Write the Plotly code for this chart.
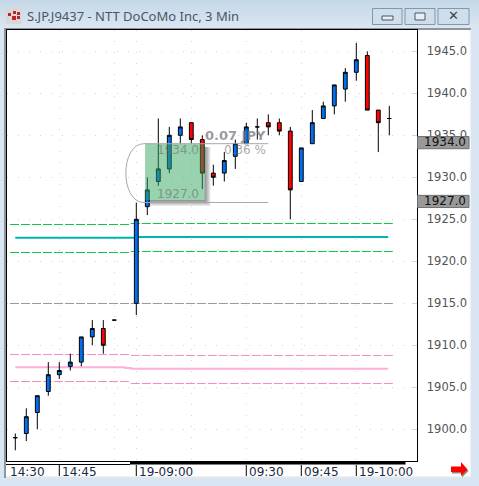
import plotly.graph_objects as go

W, H = 479, 486

# bar slots, 3 min each; slot 10 is the empty break between the two sessions
bar_pos = [0, 1, 2, 3, 4, 5, 6, 7, 8, 9, 11, 12, 13, 14, 15, 16, 17, 18, 19, 20, 21, 22, 23, 24, 25, 26, 27, 28, 29, 30, 31, 32, 33, 34]
opens = [1899, 1899.5, 1902, 1904.5, 1906.5, 1907.5, 1908, 1911, 1912, 1913, 1915, 1926.5, 1929.5, 1931, 1935, 1936.5, 1934.5, 1930.5, 1930.5, 1932.5, 1934, 1936, 1936.5, 1936.5, 1935.5, 1929.5, 1934, 1937, 1938.5, 1940.5, 1942.5, 1944.5, 1938, 1937]
highs = [1899.5, 1902.5, 1904, 1908, 1908, 1909, 1911, 1913, 1913, 1913, 1927, 1930, 1937, 1936, 1937, 1936.5, 1935, 1931.5, 1933, 1934.5, 1936.5, 1937, 1937.5, 1937, 1936, 1933.5, 1938, 1939, 1941, 1943, 1946, 1945, 1938, 1938.5]
lows = [1897.5, 1898.6, 1900, 1904, 1906, 1907, 1907.5, 1910, 1909, 1913, 1913.6, 1925.5, 1929, 1930.5, 1934, 1934, 1928.6, 1929, 1929.5, 1931, 1934, 1934.5, 1935, 1935, 1925, 1929.5, 1934, 1937, 1937.5, 1939, 1941.5, 1938, 1933, 1935]
closes = [1899, 1901.5, 1904, 1906.5, 1907, 1908, 1911, 1912, 1910, 1913, 1925, 1928.5, 1931, 1935, 1936, 1934.5, 1930.5, 1930, 1932, 1934, 1936, 1936, 1936, 1935.5, 1928.5, 1933.5, 1936.5, 1938.5, 1941, 1942.5, 1944, 1938, 1936.5, 1937]

y_ticks = [1900, 1905, 1910, 1915, 1920, 1925, 1930, 1935, 1940, 1945]
time_pos = [-0.78, 4, 11, 21, 26, 31]
time_labels = ["14:30", "14:45", "19-09:00", "09:30", "09:45", "19-10:00"]
grid_pos = [4, 9, 11, 16, 21, 26, 31]

# dashed band lines, previous session then current session
band_left = [-0.48, 10.43]
band_right = [10.5, 34.4]
green_upper = [1924.38, 1924.5]
green_lower = [1921.05, 1921.17]
gray_mid = [1914.98, 1914.98]
pink_upper = [1908.9, 1908.79]
pink_lower = [1905.69, 1905.45]

cyan_x = [0, 11, 11, 33.9]
cyan_y = [1922.8, 1922.8, 1922.9, 1922.9]
pink_x = [0, 10, 10, 10.5, 10.5, 33.9]
pink_y = [1907.4, 1907.4, 1907.3, 1907.3, 1907.2, 1907.2]

price_hi = 1934
price_lo = 1927
box_x = [11.8, 17.2]
box_y = [1927.3, 1934]
rail_end = 23

plot_l, plot_r, plot_t, plot_b = 6.5, 416.5, 30, 461


def py(v):
    return 1 - v / H


def px(v):
    return v / W


def rect(x0, y0, x1, y1, fill, line=None, layer="below", lw=1):
    return dict(type="rect", xref="paper", yref="paper", x0=px(x0), x1=px(x1), y0=py(y0), y1=py(y1),
                fillcolor=fill, line=dict(color=line or "rgba(0,0,0,0)", width=lw if line else 0), layer=layer)


shapes = []
# title bar gradient
for r in range(29):
    g = r / 28
    shapes.append(rect(0, r, W, r + 1, "rgb(%d,%d,%d)" % (198 + 22 * g, 216 + 14 * g, 232 + 10 * g)))
# window body
shapes.append(rect(0, 29, W, H, "#d8e5f2"))
shapes.append(rect(4, 28, 471, 478, "#f4f4f4"))
shapes.append(rect(4, 28, 471, 30, "#8f959b"))
shapes.append(rect(4, 28, 6, 478, "#8f959b"))
shapes.append(rect(6, 30, 469.5, 476.5, "#ffffff"))
# time scale bar
shapes.append(rect(130, 461, 405.5, 464.5, "#000000"))
shapes.append(rect(6, 464, 130, 465, "#000000"))
shapes.append(rect(6, 476.5, 471, 478, "#e6e6e6"))

# window buttons
for b0, b1 in [(372.5, 402), (405, 435), (438, 469)]:
    shapes.append(rect(b0, 8.5, b1, 24.5, "#cfdeeb", "#8296ae"))
shapes.append(rect(382, 16, 393, 20, "#e8eef4", "#4a5560"))
shapes.append(rect(415, 13, 425, 20, "#e8eef4", "#4a5560"))
# icon
shapes.append(rect(6, 8, 22, 24, "#d8d8d8"))
for ix, iy, s in [(8, 13, 3), (12, 16, 4), (13, 11, 3), (17, 12, 3), (17, 16, 3)]:
    shapes.append(rect(ix, iy, ix + s, iy + s, "#c02030"))

# red arrow, bottom right
arrow = [(451, 466.5), (461, 466.5), (461, 462), (467.5, 469.5), (461, 476), (461, 472), (451, 472)]
path = "M " + " L ".join("%.4f,%.4f" % (px(a), py(b)) for a, b in [(p + 1, q + 1.5) for p, q in arrow]) + " Z"
shapes.append(dict(type="path", xref="paper", yref="paper", path=path, fillcolor="#888888", line=dict(width=0), layer="above"))
path = "M " + " L ".join("%.4f,%.4f" % (px(a), py(b)) for a, b in arrow) + " Z"
shapes.append(dict(type="path", xref="paper", yref="paper", path=path, fillcolor="#ff0000", line=dict(width=0), layer="above"))

# time separators
for t in time_pos[1:]:
    shapes.append(dict(type="line", xref="x", yref="paper", x0=t, x1=t, y0=py(465), y1=py(476),
                       line=dict(color="#000000", width=1), layer="above"))

# shadow of the highlight box, one L per step
for k in range(1, 7):
    dx = k * 0.09
    dy = k * 0.119
    d = "M %.3f,%.3f L %.3f,%.3f L %.3f,%.3f L %.3f,%.3f L %.3f,%.3f L %.3f,%.3f Z" % (
        box_x[1], box_y[1] - 0.4, box_x[1] + dx, box_y[1] - 0.4, box_x[1] + dx, box_y[0] - dy,
        box_x[0] + 0.3, box_y[0] - dy, box_x[0] + 0.3, box_y[0], box_x[1], box_y[0])
    shapes.append(dict(type="path", xref="x", yref="y", path=d, fillcolor="rgba(40,40,40,0.1)",
                       line=dict(width=0), layer="above"))
shapes.append(dict(type="rect", xref="x", yref="y", x0=box_x[0], x1=box_x[1], y0=box_y[0], y1=box_y[1],
                   fillcolor="rgba(50,165,95,0.5)", line=dict(width=0), layer="above"))
# rails and the rounded end
ctrl = box_x[0] - 2.3
d = "M %g,%g L 11.7,%g C %g,%g %g,%g 11.7,%g L %g,%g" % (rail_end, price_hi, price_hi, ctrl, price_hi, ctrl, price_lo, price_lo, rail_end, price_lo)
shapes.append(dict(type="path", xref="x", yref="y", path=d, line=dict(color="#a8a8a8", width=1), layer="above"))

# price flags on the scale
for p in [price_hi, price_lo]:
    shapes.append(dict(type="rect", xref="paper", yref="y", x0=px(417.5), x1=px(469), y0=p - 0.6, y1=p + 0.85,
                       fillcolor="#999999", line=dict(color="#707070", width=1), layer="above"))

fig = go.Figure()


def band(level, color):
    fig.add_trace(go.Scatter(x=band_left, y=[level[0], level[0]], mode="lines", hoverinfo="skip",
                             line=dict(color=color, width=1, dash="9px,2px")))
    fig.add_trace(go.Scatter(x=band_right, y=[level[1], level[1]], mode="lines", hoverinfo="skip",
                             line=dict(color=color, width=1, dash="9px,2px")))


band(green_upper, "#10c848")
band(green_lower, "#10c848")
band(gray_mid, "#999999")
band(pink_upper, "#f48cc0")
band(pink_lower, "#f48cc0")
fig.add_trace(go.Scatter(x=cyan_x, y=cyan_y, mode="lines", line=dict(color="#00b4b4", width=2)))
fig.add_trace(go.Scatter(x=pink_x, y=pink_y, mode="lines", line=dict(color="#ffb0d8", width=2)))

fig.add_trace(go.Candlestick(
    x=bar_pos, open=opens, high=highs, low=lows, close=closes, xaxis="x2", yaxis="y2", whiskerwidth=0,
    increasing=dict(fillcolor="#0070f0", line=dict(color="#000000", width=1)),
    decreasing=dict(fillcolor="#ff0000", line=dict(color="#000000", width=1)),
))

annotations = []
for t, lab in zip(time_pos, time_labels):
    annotations.append(dict(x=t, xref="x", y=py(471.5), yref="paper", text=lab, showarrow=False, xanchor="left",
                            yanchor="middle", xshift=1, font=dict(family="DejaVu Sans", size=12, color="#1a2a44")))
for p in [price_hi, price_lo]:
    annotations.append(dict(x=px(469), xref="paper", y=p, yref="y", text="%.1f" % p, showarrow=False, xanchor="right",
                            yanchor="middle", xshift=-1, yshift=1.5, font=dict(family="DejaVu Sans", size=12, color="#111111")))
annotations.append(dict(x=px(25), xref="paper", y=py(16), yref="paper", text="S.JP.J9437 - NTT DoCoMo Inc, 3 Min",
                        showarrow=False, xanchor="left", yanchor="middle",
                        font=dict(family="Noto Sans", size=13, color="#4a5568")))
annotations.append(dict(x=px(453), xref="paper", y=py(16), yref="paper", text="<b>✕</b>", showarrow=False,
                        xanchor="center", yanchor="middle",
                        font=dict(family="DejaVu Sans", size=13, color="#3a4550")))
grey_text = "rgba(110,110,110,0.62)"
annotations.append(dict(x=rail_end, y=1935, yanchor="middle", xanchor="right", text="<b>0.07 JPY</b>", showarrow=False,
                        font=dict(family="DejaVu Sans", size=13, color="rgba(120,120,130,0.75)")))
annotations.append(dict(x=rail_end, y=1933.2, yanchor="middle", xanchor="right", text="0.36 %", showarrow=False,
                        font=dict(family="DejaVu Sans", size=12, color=grey_text)))
annotations.append(dict(x=12.7, y=1933.2, yanchor="middle", xanchor="left", text="1934.0", showarrow=False,
                        font=dict(family="DejaVu Sans", size=12, color=grey_text)))
annotations.append(dict(x=12.7, y=1928, yanchor="middle", xanchor="left", text="1927.0", showarrow=False,
                        font=dict(family="DejaVu Sans", size=12, color=grey_text)))

x_range = [(plot_l - 15.3) / 11, (plot_r - 15.3) / 11]
y_range = [1945 - (plot_b - 51.3) / 8.4, 1945 + (51.3 - plot_t) / 8.4]
dom_x = [px(plot_l), px(plot_r)]
dom_y = [py(plot_b), py(plot_t)]

fig.update_layout(
    width=W, height=H, autosize=False, showlegend=False, margin=dict(l=0, r=0, t=0, b=0),
    paper_bgcolor="#d8e5f2", plot_bgcolor="#ffffff", boxgap=0.5, shapes=shapes, annotations=annotations,
    font=dict(family="DejaVu Sans"),
    xaxis=dict(domain=dom_x, range=x_range, tickvals=grid_pos, showticklabels=False, ticks="", zeroline=False,
               showgrid=True, gridcolor="#d4d4d4", griddash="1px,10px", gridwidth=1,
               showline=True, linecolor="#000000", linewidth=1, mirror=True),
    yaxis=dict(domain=dom_y, range=y_range, tickvals=y_ticks, ticktext=["%.1f" % v for v in y_ticks], side="right",
               ticks="inside", ticklen=5, tickcolor="#d8d8d8", ticklabelstandoff=7, zeroline=False,
               tickfont=dict(family="DejaVu Sans", size=11.5, color="#555555"),
               showgrid=True, gridcolor="#d4d4d4", griddash="1px,10px", gridwidth=1,
               showline=True, linecolor="#000000", linewidth=1, mirror=True),
    xaxis2=dict(domain=dom_x, range=x_range, overlaying="x", visible=False, rangeslider=dict(visible=False)),
    yaxis2=dict(domain=dom_y, range=y_range, overlaying="y", visible=False),
)

fig.write_html("out.html", config=dict(displayModeBar=False),
               post_script="document.body.style.margin='0';document.body.style.overflow='hidden';")
